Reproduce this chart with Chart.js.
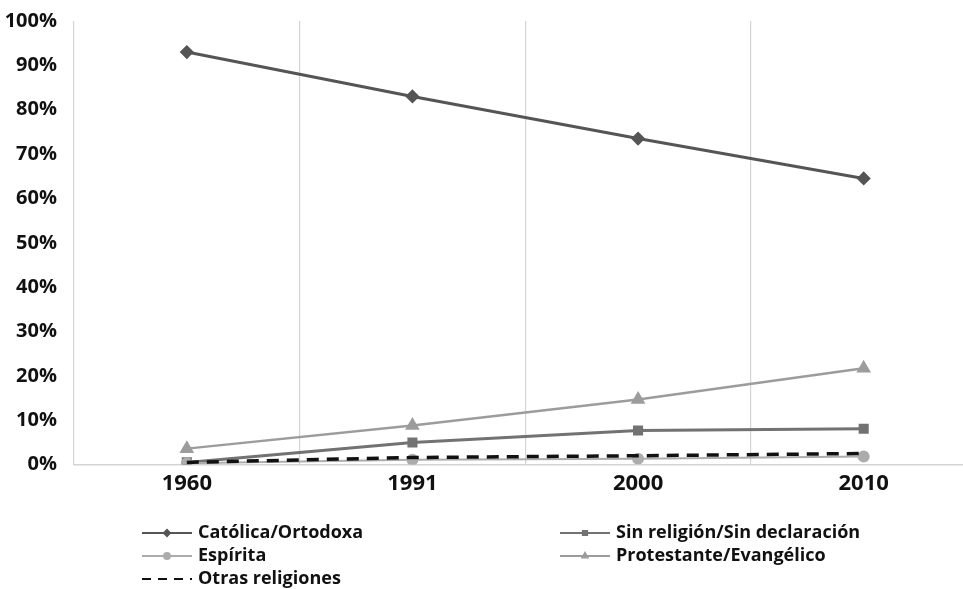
<!DOCTYPE html>
<html>
<head>
<meta charset="utf-8">
<script src="https://cdn.jsdelivr.net/npm/chart.js@4.4.1/dist/chart.umd.min.js"></script>
<style>
  html, body { margin: 0; padding: 0; background: #fff; overflow: hidden; }
  #wrap { width: 985px; height: 589px; }
</style>
</head>
<body>
<div id="wrap"><canvas id="chart" width="985" height="589"></canvas></div>
<script>
// datos (porcentaje de población por religión)
const years = ['1960', '1991', '2000', '2010'];
const catolica = [93.0, 83.0, 73.5, 64.5];
const sinReligion = [0.5, 5.0, 7.7, 8.1];
const espirita = [0.3, 1.1, 1.3, 1.8];
const protestante = [3.6, 8.8, 14.7, 21.7];
const otras = [0.5, 1.6, 2.0, 2.5];
const yTicks = [0, 10, 20, 30, 40, 50, 60, 70, 80, 90, 100];

const FONT = "'Open Sans', 'Noto Sans', sans-serif";

// leyenda dibujada a mano en dos columnas
const legendPlugin = {
    id: 'twoColLegend',
    afterDraw(chart) {
        const ctx = chart.ctx;
        const items = [
            { ds: 0, x: 142, y: 533 },
            { ds: 1, x: 560, y: 533 },
            { ds: 2, x: 142, y: 556 },
            { ds: 3, x: 560, y: 556 },
            { ds: 4, x: 142, y: 579 }
        ];
        ctx.save();
        items.forEach(it => {
            const ds = chart.data.datasets[it.ds];
            ctx.strokeStyle = ds.borderColor;
            ctx.lineWidth = 2;
            ctx.setLineDash(ds.borderDash ? [9, 7] : []);
            ctx.beginPath();
            ctx.moveTo(it.x, it.y);
            ctx.lineTo(it.x + 50, it.y);
            ctx.stroke();
            ctx.setLineDash([]);
            if (ds.pointRadius > 0) {
                ctx.fillStyle = ds.backgroundColor;
                Chart.helpers.drawPoint(ctx, {
                    pointStyle: ds.pointStyle,
                    radius: 3,
                    rotation: 0,
                    borderWidth: 1
                }, it.x + 25, it.y);
            }
            ctx.fillStyle = '#111';
            ctx.font = 'bold 18px ' + FONT;
            ctx.textBaseline = 'middle';
            ctx.fillText(ds.label, it.x + 56, it.y);
        });
        ctx.restore();
    }
};

const chart = new Chart(document.getElementById('chart'), {
    type: 'line',
    data: {
        labels: years,
        datasets: [
            { label: 'Católica/Ortodoxa', data: catolica, borderColor: '#555555', backgroundColor: '#555555', borderWidth: 3, pointStyle: 'rectRot', pointRadius: 5, order: 5 },
            { label: 'Sin religión/Sin declaración', data: sinReligion, borderColor: '#727272', backgroundColor: '#727272', borderWidth: 3, pointStyle: 'rect', pointRadius: 5, order: 3 },
            { label: 'Espírita', data: espirita, borderColor: '#acacac', backgroundColor: '#acacac', borderWidth: 2, pointStyle: 'circle', pointRadius: 5, order: 2 },
            { label: 'Protestante/Evangélico', data: protestante, borderColor: '#9c9c9c', backgroundColor: '#9c9c9c', borderWidth: 2.5, pointStyle: 'triangle', pointRadius: 6, order: 4 },
            { label: 'Otras religiones', data: otras, borderColor: '#111111', backgroundColor: '#111111', borderWidth: 3.5, borderDash: [12, 8], pointRadius: 0, order: 1 }
        ]
    },
    options: {
        responsive: false,
        animation: false,
        layout: { padding: { top: 20, left: 0, right: 0, bottom: 86 } },
        plugins: {
            legend: { display: false },
            tooltip: { enabled: false }
        },
        elements: { line: { tension: 0 } },
        scales: {
            x: {
                offset: true,
                grid: { offset: true, color: '#d4d4d4', lineWidth: 1.2, drawTicks: false },
                border: { color: '#d4d4d4', width: 1.5 },
                ticks: { color: '#111', font: { family: FONT, size: 22, weight: 'bold' }, padding: 6 }
            },
            y: {
                min: 0,
                max: 100,
                afterBuildTicks(scale) { scale.ticks = yTicks.map(v => ({ value: v })); },
                afterFit(scale) { scale.width = 74; },
                grid: { display: false },
                border: { display: false },
                ticks: {
                    color: '#111',
                    font: { family: FONT, size: 20, weight: 'bold' },
                    padding: 9,
                    callback: v => v + '%'
                }
            }
        }
    },
    plugins: [legendPlugin]
});
</script>
</body>
</html>
